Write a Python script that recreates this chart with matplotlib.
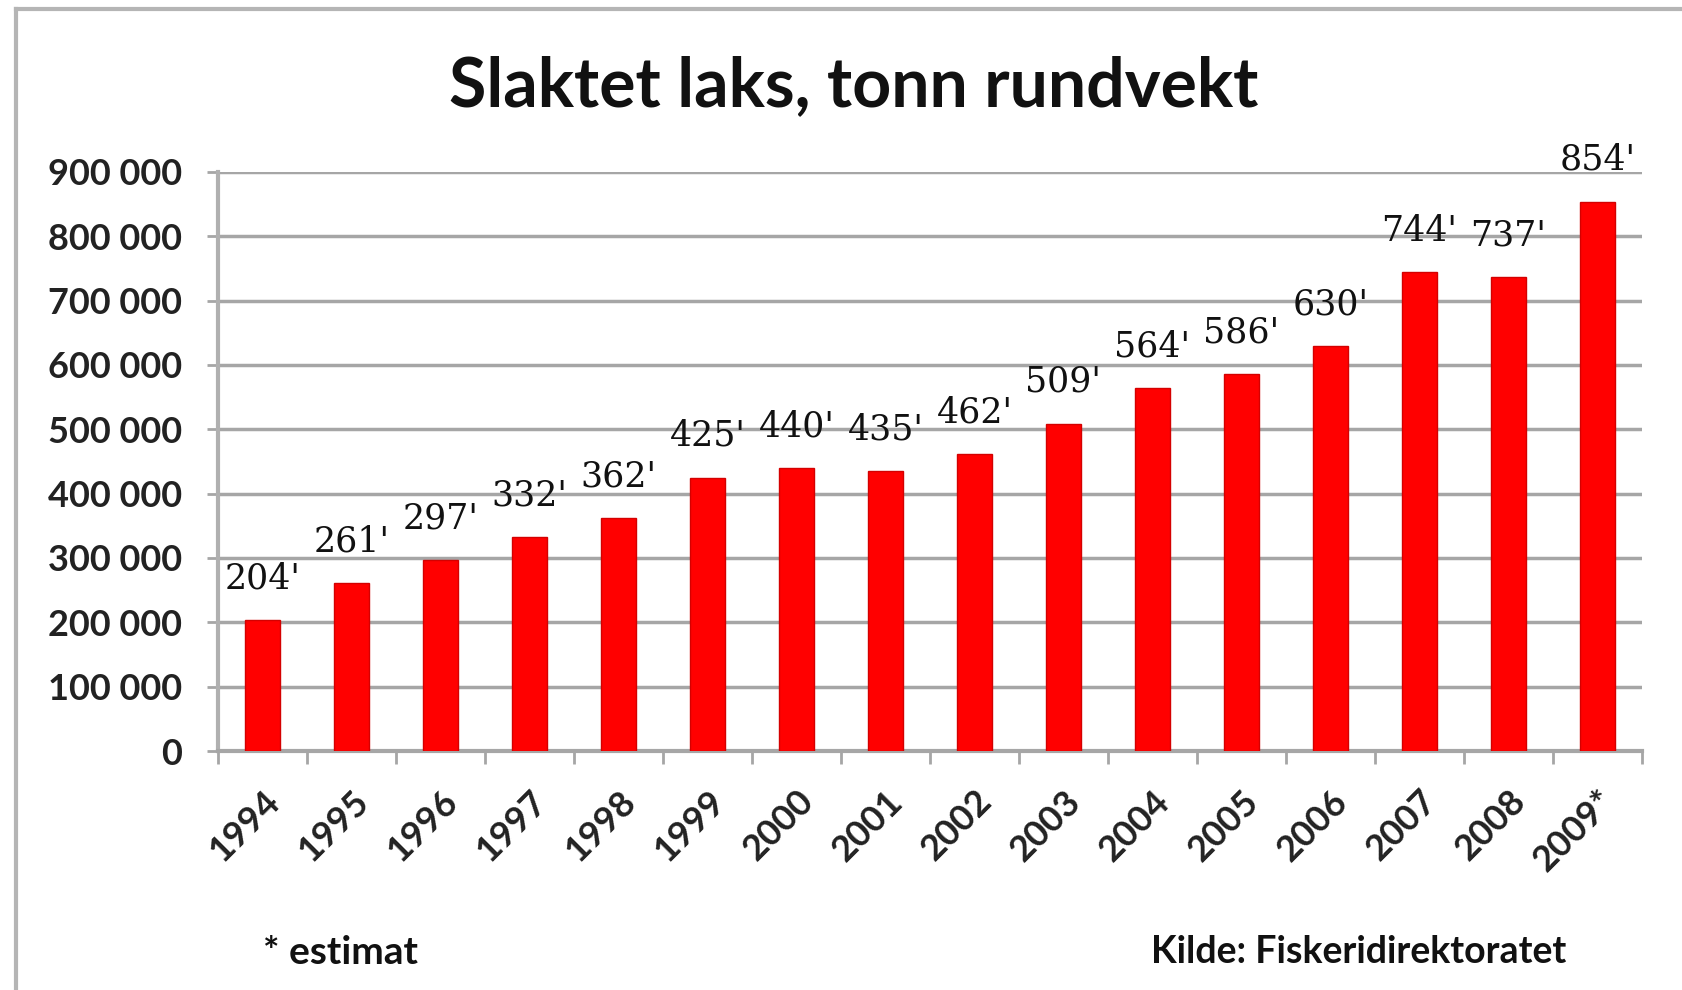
import numpy as np
import matplotlib.pyplot as plt
from matplotlib.lines import Line2D
import matplotlib.transforms as mtransforms

# Data: slaughtered salmon, tonnes round weight
years = ["1994", "1995", "1996", "1997", "1998", "1999", "2000", "2001",
         "2002", "2003", "2004", "2005", "2006", "2007", "2008", "2009*"]
tonn = [204000, 261000, 297000, 332000, 362000, 425000, 440000, 435000,
        462000, 509000, 564000, 586000, 630000, 744000, 737000, 854000]
yticks = [0, 100000, 200000, 300000, 400000, 500000, 600000, 700000, 800000, 900000]

plt.rcParams['font.family'] = ['Lato', 'DejaVu Sans']

fig = plt.figure(figsize=(16.83, 9.90), dpi=100)
ax = fig.add_axes([0.1295, 0.2414, 0.9756 - 0.1295, 0.8263 - 0.2414])

x = np.arange(len(years))
ax.bar(x, tonn, width=0.4, color="#ff0000", edgecolor="#d40000", linewidth=1, zorder=3)

for xi, v in zip(x, tonn):
    ax.annotate(f"{v // 1000}'", (xi, v), xytext=(0, 30), textcoords="offset points",
                ha="center", va="center", fontsize=25, family="DejaVu Serif",
                color="#111111", clip_on=False, zorder=4)

ax.set_xlim(-0.5, len(years) - 0.5)
ax.set_ylim(0, 900000)
ax.set_yticks(yticks)
ax.set_yticklabels([f"{t:,}".replace(",", " ") for t in yticks],
                   fontsize=26, fontweight="bold", color="#222222")
ax.yaxis.grid(True, color="#a6a6a6", linewidth=2.5, zorder=0)

# category labels sit between the boundary tick marks
ax.set_xticks(np.arange(-0.5, len(years)), minor=False)
ax.set_xticklabels([])
ax.set_xticks(x, minor=True)
ax.set_xticklabels(years, minor=True, rotation=45, ha="right", va="top",
                   rotation_mode="anchor", fontsize=26, fontweight="bold", color="#222222")
shift = mtransforms.ScaledTranslation(-8 / 100, 0, fig.dpi_scale_trans)
for lbl in ax.get_xticklabels(minor=True):
    lbl.set_transform(lbl.get_transform() + shift)
ax.tick_params(axis="x", which="major", length=9, width=2, color="#a6a6a6", direction="out")
ax.tick_params(axis="x", which="minor", length=0, pad=24)
ax.tick_params(axis="y", length=8, width=2, color="#a6a6a6", pad=18)

for side in ["top", "right"]:
    ax.spines[side].set_visible(False)
ax.spines["left"].set_color("#b0b0b0")
ax.spines["left"].set_linewidth(3)
ax.spines["bottom"].set_color("#a6a6a6")
ax.spines["bottom"].set_linewidth(3)

fig.text(0.507, 0.913, "Slaktet laks, tonn rundvekt", ha="center", va="center",
         fontsize=49, fontweight="bold", color="#111111")
fig.text(0.156, 0.038, "* estimat", ha="left", va="center", fontsize=28, fontweight="bold",
         color="#111111")
fig.text(0.684, 0.038, "Kilde: Fiskeridirektoratet", ha="left", va="center", fontsize=27,
         fontweight="bold", color="#111111")

# outer frame (left and top edges visible)
fig.add_artist(Line2D([0.0095, 0.0095], [0.0, 0.991], color="#b5b5b5", linewidth=3))
fig.add_artist(Line2D([0.0095, 1.0], [0.991, 0.991], color="#b5b5b5", linewidth=3))

fig.savefig("out.png", dpi=100)
